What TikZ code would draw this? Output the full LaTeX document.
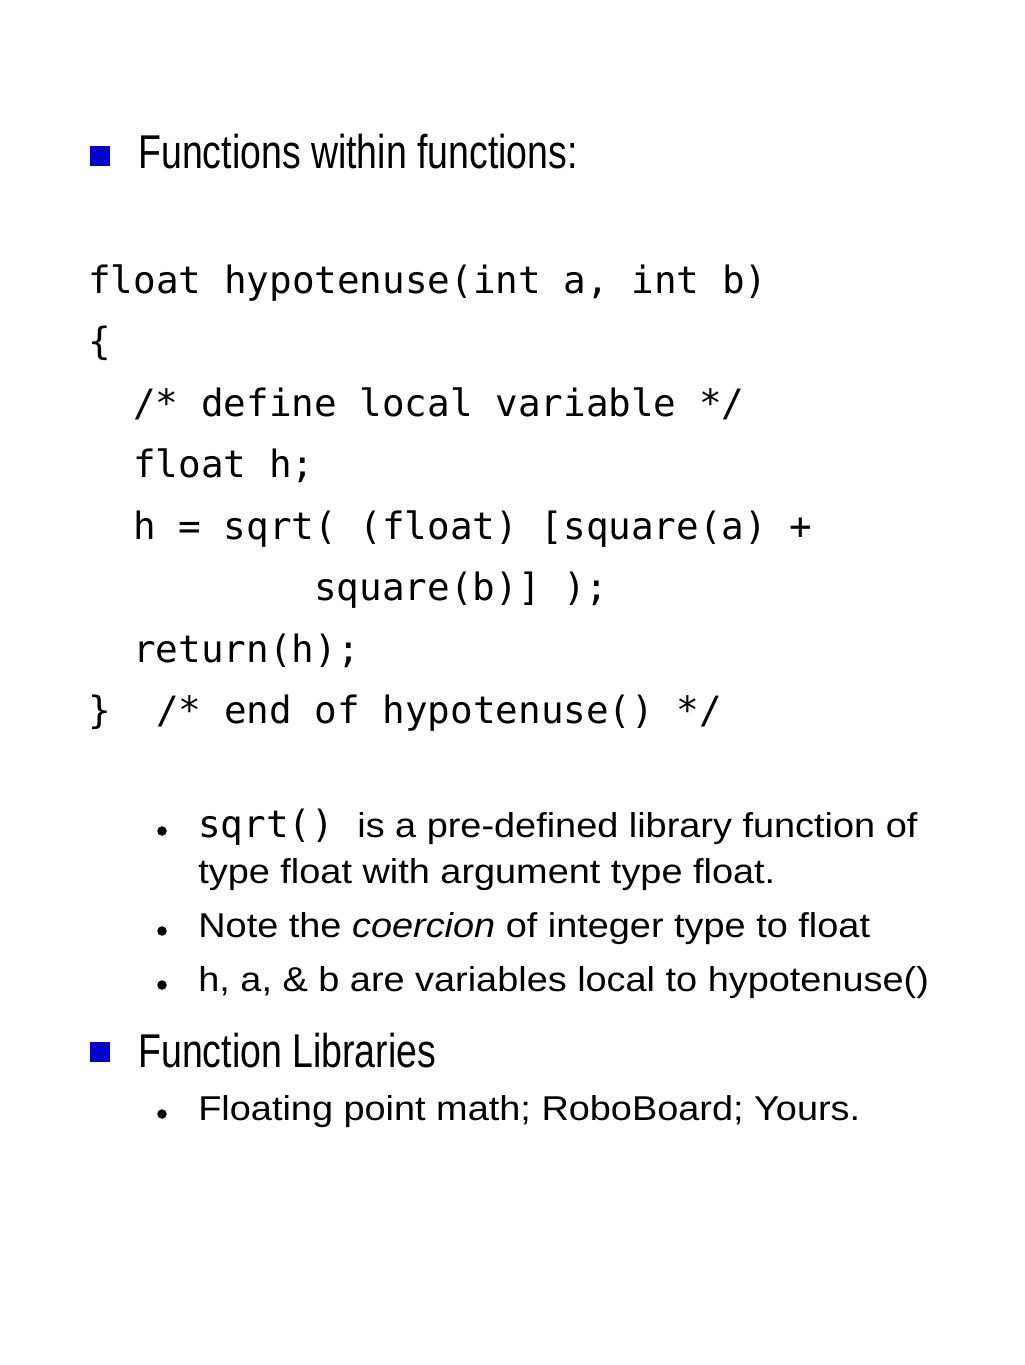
\documentclass[tikz,border=0pt]{standalone}
\usepackage{fontspec}
\setmainfont{Liberation Sans}
\setmonofont{DejaVu Sans Mono}
\newfontfamily\headfont[FakeStretch=0.79]{Liberation Sans}
\newfontfamily\bodyfont[FakeStretch=1.1]{Liberation Sans}
\usetikzlibrary{positioning}
\definecolor{slideblue}{RGB}{0,0,204}

\begin{document}
\begin{tikzpicture}[x=0.02cm, y=-0.02cm,
    head/.style={anchor=base west, inner sep=0pt, font=\headfont\fontsize{27pt}{30pt}\selectfont},
    code/.style={anchor=base west, inner sep=0pt, font=\ttfamily\fontsize{21.4pt}{24pt}\selectfont},
    body/.style={anchor=base west, inner sep=0pt, font=\bodyfont\fontsize{19.6pt}{22pt}\selectfont},
    square/.style={fill=slideblue, draw=none, minimum size=0.4cm, inner sep=0pt},
    dot/.style={fill=black, circle, minimum size=0.19cm, inner sep=0pt}]
   \useasboundingbox (0,0) rectangle (1024,1365);
   % first heading
   \node[square] (sq1) at (100,156) {};
   \node[head] (h1) at (138,169) {Functions within functions:};
   % code
   \node[code] (c1) at (88,293) {float hypotenuse(int a, int b)};
   \node[code] (c2) at (88,354) {\{};
   \node[code] (c3) at (133,416) {/* define local variable */};
   \node[code] (c4) at (133,477) {float h;};
   \node[code] (c5) at (133,539) {h = sqrt( (float) [square(a) +};
   \node[code] (c6) at (314,600) {square(b)] );};
   \node[code] (c7) at (133,662) {return(h);};
   \node[code] (c8) at (88,723) {\}\ \ /* end of hypotenuse() */};
   % bullets
   \node[dot] (d1) at (162,831) {};
   \node[code] (b1a) at (198,837) {sqrt()};
   \node[body] (b1b) at (357,837) {is a pre-defined library function of};
   \node[body] (b1c) at (198,883) {type float with argument type float.};
   \node[dot] (d2) at (162,931) {};
   \node[body] (b2) at (198,937) {Note the \textit{coercion} of integer type to float};
   \node[dot] (d3) at (162,985) {};
   \node[body] (b3) at (198,991) {h, a, \& b are variables local to hypotenuse()};
   % second heading
   \node[square] (sq2) at (100,1052) {};
   \node[head] (h2) at (138,1067) {Function Libraries};
   \node[dot] (d4) at (162,1114) {};
   \node[body] (b4) at (198,1120) {Floating point math; RoboBoard; Yours.};
\end{tikzpicture}
\end{document}
